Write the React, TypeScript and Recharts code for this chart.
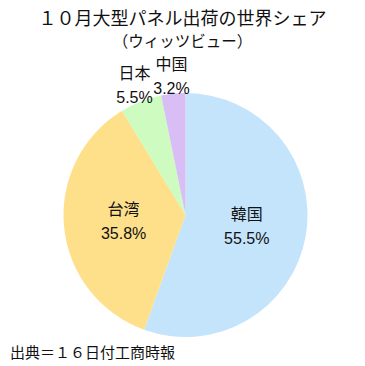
import { PieChart, Pie, Cell } from "recharts";

const countries = ["韓国", "台湾", "日本", "中国"];
const shares = [55.5, 35.8, 5.5, 3.2];
const colors = ["#c4e4fb", "#fee08b", "#cdfbc0", "#d9bef6"];

const data = countries.map((name, i) => ({ name, value: shares[i] }));

const RADIAN = Math.PI / 180;
const FONT = "'Liberation Sans', 'Noto Sans CJK JP', sans-serif";

const renderLabel = (props: any) => {
  const { cx, cy, midAngle, outerRadius, index, name, value } = props;
  const inside = value > 10;
  const r = inside ? outerRadius * 0.51 : outerRadius * 1.145;
  const x = cx + r * Math.cos(-midAngle * RADIAN);
  const y = cy + r * Math.sin(-midAngle * RADIAN);
  return (
    <text
      key={index}
      x={x}
      y={y}
      textAnchor="middle"
      fontFamily={FONT}
      fontSize={16}
      fill="#111"
    >
      <tspan x={x} dy={-6}>
        {name}
      </tspan>
      <tspan x={x} dy={24}>
        {value.toFixed(1)}%
      </tspan>
    </text>
  );
};

export default function App() {
  return (
    <div
      style={{
        position: "fixed",
        left: 0,
        top: 0,
        width: 365,
        height: 366,
        background: "#fff",
        fontFamily: FONT,
        color: "#111",
      }}
    >
      <div
        style={{
          position: "absolute",
          top: 6,
          left: 0,
          width: 365,
          textAlign: "center",
          fontSize: 18,
          lineHeight: "26px",
        }}
      >
        １０月大型パネル出荷の世界シェア
      </div>
      <div
        style={{
          position: "absolute",
          top: 31,
          left: 0,
          width: 365,
          textAlign: "center",
          fontSize: 15.5,
          lineHeight: "22px",
        }}
      >
        （ウィッツビュー）
      </div>
      <PieChart
        width={365}
        height={366}
        margin={{ top: 0, right: 0, bottom: 0, left: 0 }}
      >
        <Pie
          data={data}
          dataKey="value"
          nameKey="name"
          cx={185.5}
          cy={215}
          outerRadius={122}
          startAngle={90}
          endAngle={-270}
          stroke="none"
          label={renderLabel}
          labelLine={false}
          isAnimationActive={false}
        >
          {data.map((d, i) => (
            <Cell key={d.name} fill={colors[i]} />
          ))}
        </Pie>
      </PieChart>
      <div
        style={{
          position: "absolute",
          top: 342,
          left: 10,
          fontSize: 15,
          lineHeight: "22px",
        }}
      >
        出典＝１６日付工商時報
      </div>
    </div>
  );
}
